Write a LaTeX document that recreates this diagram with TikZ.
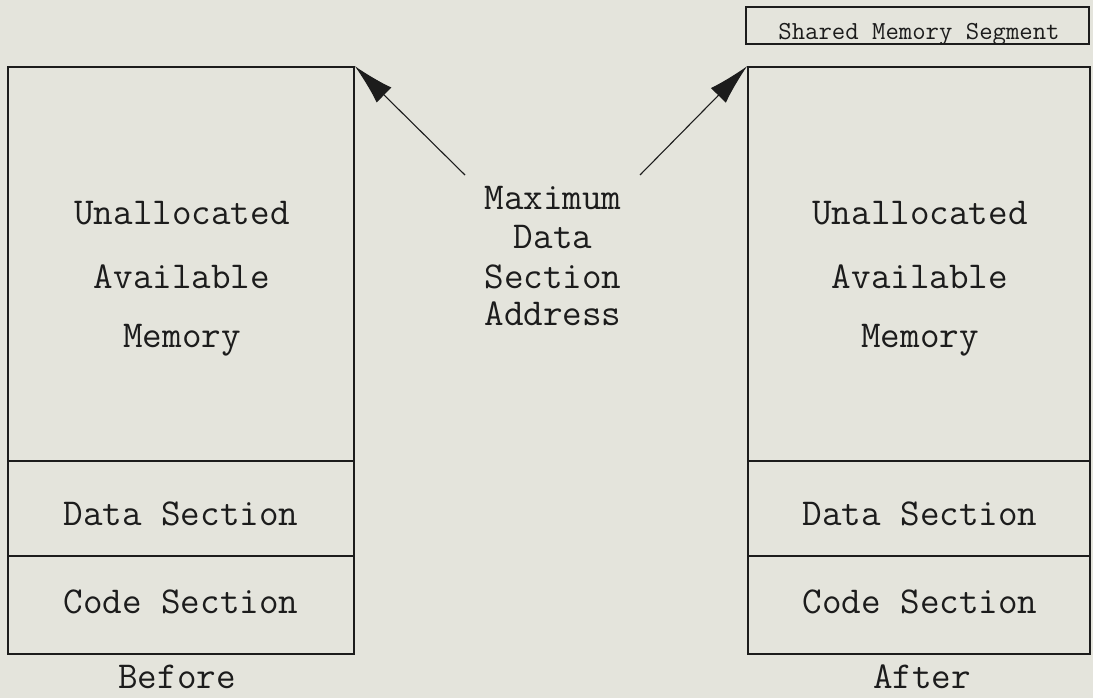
\documentclass[tikz,border=0pt]{standalone}
\usepackage{fontspec}
\usetikzlibrary{arrows.meta}
\definecolor{paper}{RGB}{228,228,220}
\definecolor{ink}{RGB}{28,28,28}
\tikzset{
  cell/.style={draw=ink, line width=1.7pt, rectangle, inner sep=0pt},
  txt/.style={text=ink, anchor=base, inner sep=0pt, font=\ttfamily\fontsize{38}{42}\selectfont},
  smalltxt/.style={text=ink, anchor=base, inner sep=0pt, font=\ttfamily\fontsize{26}{28}\selectfont},
  pointer/.style={draw=ink, line width=1.1pt, -{Latex[length=41pt,width=21pt]}}
}
\begin{document}
\begin{tikzpicture}[x=1pt,y=-1pt]
\fill[paper] (0,0) rectangle (1093,698);
\useasboundingbox (0,0) rectangle (1093,698);
% left column (Before)
\node[cell, minimum width=346pt, minimum height=394pt] (lun) at (181,264) {};
\node[cell, minimum width=346pt, minimum height=95pt] (lda) at (181,508.5) {};
\node[cell, minimum width=346pt, minimum height=98pt] (lco) at (181,605) {};
% right column (After)
\node[cell, minimum width=342pt, minimum height=394pt] (run) at (919,264) {};
\node[cell, minimum width=342pt, minimum height=95pt] (rda) at (919,508.5) {};
\node[cell, minimum width=342pt, minimum height=98pt] (rco) at (919,605) {};
% shared memory segment
\node[cell, line width=2.2pt, minimum width=343pt, minimum height=37pt] (shm) at (917.5,25.5) {};
\node[smalltxt] (shmt) at (919,40) {Shared Memory Segment};
% texts left
\node[txt] (lu1) at (182,225) {Unallocated};
\node[txt] (lu2) at (182,288) {Available};
\node[txt] (lu3) at (182,347) {Memory};
\node[txt] (ldt) at (181,525) {Data Section};
\node[txt] (lct) at (181,613) {Code Section};
\node[txt] (before) at (177,688) {Before};
% texts right
\node[txt] (ru1) at (920,225) {Unallocated};
\node[txt] (ru2) at (920,288) {Available};
\node[txt] (ru3) at (920,347) {Memory};
\node[txt] (rdt) at (920,525) {Data Section};
\node[txt] (rct) at (920,613) {Code Section};
\node[txt] (after) at (922,688) {After};
% middle label
\node[txt] (m1) at (553,210) {Maximum};
\node[txt] (m2) at (553,248) {Data};
\node[txt] (m3) at (553,288) {Section};
\node[txt] (m4) at (553,325) {Address};
% pointers
\coordinate (tl) at (465,175);
\coordinate (tr) at (640,175);
\draw[pointer] (tl) -- (lun.north east);
\draw[pointer] (tr) -- (run.north west);
\end{tikzpicture}
\end{document}
